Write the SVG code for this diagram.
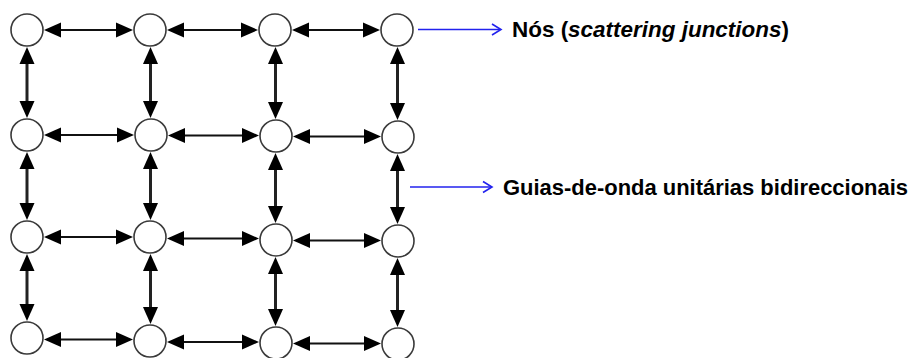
<svg xmlns="http://www.w3.org/2000/svg" width="922" height="358" viewBox="0 0 922 358">
  <style>
    .node { fill: #ffffff; stroke: #3a3a3a; stroke-width: 1.6; }
    .h { stroke: #111; stroke-width: 2; fill: none; marker-start: url(#tip); marker-end: url(#tip); }
    .v { stroke: #222; stroke-width: 3; fill: none; marker-start: url(#tip); marker-end: url(#tip); }
    .pointer { stroke: #2222ee; stroke-width: 1.6; fill: none; }
    .label { font-family: "Liberation Sans", Arial, sans-serif; font-size: 21.5px; font-weight: bold; fill: #000; }
  </style>
  <defs>
    <marker id="tip" markerUnits="userSpaceOnUse" markerWidth="17" markerHeight="15" refX="7" refY="7.5" orient="auto-start-reverse" overflow="visible">
      <path d="M0,0 L17,7.5 L0,15 Z" fill="#000"/>
    </marker>
  </defs>

  <!-- bidirectional waveguides -->
  <g id="connectors">
    <!-- row 1 -->
    <line class="h" x1="54" y1="30" x2="123" y2="30"/>
    <line class="h" x1="177" y1="30" x2="248" y2="30"/>
    <line class="h" x1="302" y1="30" x2="370" y2="30"/>
    <!-- row 2 -->
    <line class="h" x1="54" y1="135" x2="124" y2="135"/>
    <line class="h" x1="178" y1="135.5" x2="249" y2="135.5"/>
    <line class="h" x1="303" y1="136.5" x2="371" y2="136.5"/>
    <!-- row 3 -->
    <line class="h" x1="54" y1="237" x2="123" y2="237"/>
    <line class="h" x1="177" y1="238.5" x2="249" y2="238.5"/>
    <line class="h" x1="303" y1="240.5" x2="371" y2="240.5"/>
    <!-- row 4 -->
    <line class="h" x1="54" y1="339.5" x2="123" y2="339.5"/>
    <line class="h" x1="177" y1="342" x2="249" y2="342"/>
    <line class="h" x1="303" y1="343.5" x2="371" y2="343.5"/>
    <!-- column 1 -->
    <line class="v" x1="27" y1="57" x2="27" y2="108"/>
    <line class="v" x1="27" y1="162" x2="27" y2="210"/>
    <line class="v" x1="27" y1="264" x2="27" y2="311"/>
    <!-- column 2 -->
    <line class="v" x1="150.5" y1="57" x2="150.5" y2="108"/>
    <line class="v" x1="150.5" y1="162" x2="150.5" y2="210"/>
    <line class="v" x1="150.5" y1="264" x2="150.5" y2="314"/>
    <!-- column 3 -->
    <line class="v" x1="275.5" y1="57" x2="275.5" y2="109"/>
    <line class="v" x1="275.5" y1="163" x2="275.5" y2="213"/>
    <line class="v" x1="275.5" y1="267" x2="275.5" y2="316"/>
    <!-- column 4 -->
    <line class="v" x1="397.5" y1="57" x2="397.5" y2="110"/>
    <line class="v" x1="397.5" y1="164" x2="397.5" y2="214"/>
    <line class="v" x1="397.5" y1="268" x2="397.5" y2="317"/>
  </g>

  <!-- scattering junctions -->
  <g id="n11"><circle class="node" cx="27" cy="30" r="16"/></g>
  <g id="n12"><circle class="node" cx="150" cy="30" r="16"/></g>
  <g id="n13"><circle class="node" cx="275" cy="30" r="16"/></g>
  <g id="n14"><circle class="node" cx="397" cy="30" r="16"/></g>
  <g id="n21"><circle class="node" cx="27" cy="135" r="16"/></g>
  <g id="n22"><circle class="node" cx="151" cy="135" r="16"/></g>
  <g id="n23"><circle class="node" cx="276" cy="136" r="16"/></g>
  <g id="n24"><circle class="node" cx="398" cy="137" r="16"/></g>
  <g id="n31"><circle class="node" cx="27" cy="237" r="16"/></g>
  <g id="n32"><circle class="node" cx="150" cy="237" r="16"/></g>
  <g id="n33"><circle class="node" cx="276" cy="240" r="16"/></g>
  <g id="n34"><circle class="node" cx="398" cy="241" r="16"/></g>
  <g id="n41"><circle class="node" cx="27" cy="338" r="16"/></g>
  <g id="n42"><circle class="node" cx="150" cy="341" r="16"/></g>
  <g id="n43"><circle class="node" cx="276" cy="343" r="16"/></g>
  <g id="n44"><circle class="node" cx="398" cy="344" r="16"/></g>

  <!-- legend -->
  <g id="legend-nodes">
    <line class="pointer" x1="418" y1="29.5" x2="500" y2="29.5"/>
    <polyline class="pointer" points="492,24 501,29.5 492,35"/>
    <text class="label" x="512" y="37" textLength="277" lengthAdjust="spacingAndGlyphs">Nós (<tspan font-style="italic">scattering junctions</tspan>)</text>
  </g>
  <g id="legend-waveguides">
    <line class="pointer" x1="410" y1="187" x2="492" y2="187"/>
    <polyline class="pointer" points="483,181.5 492,187 483,192.5"/>
    <text class="label" x="503" y="195" textLength="405" lengthAdjust="spacingAndGlyphs">Guias-de-onda unitárias bidireccionais</text>
  </g>
</svg>
